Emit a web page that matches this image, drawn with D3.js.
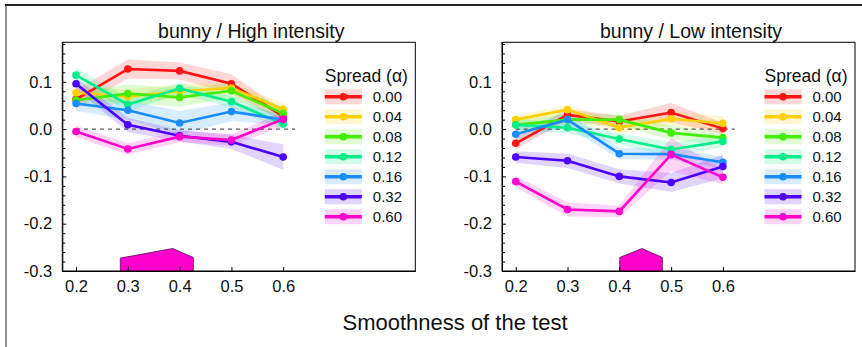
<!DOCTYPE html>
<html>
  <head>
    <meta charset="utf-8">
    <title>bunny</title>
    <script src="https://d3js.org/d3.v7.min.js"></script>
    <style>
    body { margin: 0; background: #fff; }
    text { font-family: "Liberation Sans", Arial, sans-serif; fill: #111; }
    .axis path, .axis line { stroke: #000; }
    </style>
  </head>
  <body>
    <script>
      // ====================================
      // data
      // ====================================
      const smoothness = [0.2, 0.3, 0.4, 0.5, 0.6];
      const spreads = ["0.00", "0.04", "0.08", "0.12", "0.16", "0.32", "0.60"];
      const colors = ["#ff1414", "#ffd000", "#44ee00", "#00ee88", "#1a8cff", "#4b00ff", "#ff00cc"];
      const xTicks = [0.2, 0.3, 0.4, 0.5, 0.6];
      const yTicks = [-0.3, -0.2, -0.1, 0.0, 0.1];

      // High intensity, one row per spread
      const highMean = [
        [0.063, 0.127, 0.123, 0.096, 0.027],
        [0.077, 0.069, 0.080, 0.087, 0.042],
        [0.061, 0.075, 0.067, 0.081, 0.033],
        [0.114, 0.052, 0.086, 0.058, 0.011],
        [0.054, 0.040, 0.013, 0.037, 0.020],
        [0.096, 0.009, -0.014, -0.027, -0.059],
        [-0.005, -0.042, -0.016, -0.023, 0.021]
      ];
      const highErr = [
        [0.020, 0.020, 0.018, 0.020, 0.012],
        [0.012, 0.015, 0.015, 0.012, 0.012],
        [0.015, 0.020, 0.020, 0.015, 0.012],
        [0.015, 0.015, 0.012, 0.012, 0.012],
        [0.015, 0.020, 0.025, 0.020, 0.012],
        [0.012, 0.015, 0.012, 0.015, 0.027],
        [0.012, 0.012, 0.012, 0.012, 0.015]
      ];

      // Low intensity
      const lowMean = [
        [-0.030, 0.030, 0.016, 0.035, 0.001],
        [0.020, 0.041, 0.003, 0.022, 0.012],
        [0.009, 0.020, 0.020, -0.008, -0.018],
        [0.009, 0.003, -0.021, -0.043, -0.026],
        [-0.011, 0.020, -0.052, -0.053, -0.070],
        [-0.059, -0.067, -0.100, -0.113, -0.079],
        [-0.111, -0.170, -0.174, -0.054, -0.102]
      ];
      const lowErr = [
        [0.012, 0.012, 0.012, 0.020, 0.012],
        [0.010, 0.010, 0.012, 0.015, 0.015],
        [0.012, 0.012, 0.012, 0.015, 0.012],
        [0.012, 0.012, 0.012, 0.015, 0.012],
        [0.012, 0.015, 0.012, 0.012, 0.012],
        [0.012, 0.015, 0.015, 0.020, 0.025],
        [0.012, 0.015, 0.012, 0.035, 0.015]
      ];

      // training range markers (pentagon outline)
      const highMarkerX = [0.2855, 0.2855, 0.387, 0.4265, 0.4265];
      const highMarkerY = [-0.3, -0.2727, -0.2524, -0.2715, -0.3];
      const lowMarkerX = [0.4008, 0.4008, 0.444, 0.483, 0.483];
      const lowMarkerY = [-0.3, -0.2713, -0.2524, -0.2713, -0.3];

      // ====================================
      // layout
      // ====================================
      const width = 862;
      const height = 347;
      const panelW = 353;
      const panelH = 228.7;
      const panelTop = 42.3;

      const svg = d3.select("body")
        .append("svg")
          .attr("width", width)
          .attr("height", height);

      // outer frame (top + left edge only)
      svg.append("line")
        .attr("x1", 5).attr("y1", 5).attr("x2", width).attr("y2", 5)
        .attr("stroke", "#222").attr("stroke-width", 2);
      svg.append("line")
        .attr("x1", 6).attr("y1", 5).attr("x2", 6).attr("y2", height)
        .attr("stroke", "#222").attr("stroke-width", 1);

      const xScale = d3.scaleLinear()
          .domain([0.1735, 0.855])
          .range([0, panelW]);

      const yScale = d3.scaleLinear()
          .domain([-0.3, 0.1835])
          .range([panelH, 0]);

      function drawPanel(left, title, means, errs, markX, markY) {
        const g = svg.append("g")
          .attr("transform", "translate(" + left + "," + panelTop + ")");

        g.append("text")
          .attr("x", 189)
          .attr("y", -4.5)
          .attr("text-anchor", "middle")
          .style("font-size", "19.5px")
          .text(title);

        // bands
        const area = d3.area()
          .x((d, i) => xScale(smoothness[i]))
          .y0(d => yScale(d[0] - d[1]))
          .y1(d => yScale(d[0] + d[1]));

        means.forEach(function(row, s) {
          g.append("path")
            .datum(row.map((v, i) => [v, errs[s][i]]))
            .attr("d", area)
            .attr("fill", colors[s])
            .attr("fill-opacity", 0.17);
        });

        // zero line
        g.append("line")
          .attr("x1", xScale(0.2)).attr("x2", xScale(0.623))
          .attr("y1", yScale(0)).attr("y2", yScale(0))
          .attr("stroke", "#333")
          .attr("stroke-dasharray", "4,4");

        // lines + dots
        const line = d3.line()
          .x((d, i) => xScale(smoothness[i]))
          .y(d => yScale(d));

        means.forEach(function(row, s) {
          g.append("path")
            .datum(row)
            .attr("d", line)
            .attr("fill", "none")
            .attr("stroke", colors[s])
            .attr("stroke-width", 2.6);
          g.selectAll(null)
            .data(row)
            .enter().append("circle")
              .attr("cx", (d, i) => xScale(smoothness[i]))
              .attr("cy", d => yScale(d))
              .attr("r", 3.8)
              .attr("fill", colors[s]);
        });

        // training range marker
        g.append("path")
          .datum(markX.map((x, i) => [x, markY[i]]))
          .attr("d", d3.line().x(d => xScale(d[0])).y(d => yScale(d[1])))
          .attr("fill", "#ff00cc")
          .attr("stroke", "#5a0a5a")
          .attr("stroke-width", 0.8);

        // axes with inward ticks
        const xAxis = d3.axisBottom(xScale)
          .tickValues(xTicks)
          .tickSizeInner(-4)
          .tickSizeOuter(0)
          .tickPadding(9)
          .tickFormat(d => d.toFixed(1));

        g.append("g")
          .classed("axis", true)
          .attr("transform", "translate(0," + panelH + ")")
          .call(xAxis)
          .selectAll("text").style("font-size", "16.5px");

        const yMinor = d3.range(-0.28, 0.181, 0.02)
          .filter(v => Math.abs(Math.round(v * 10) - v * 10) > 0.01);

        g.append("g")
          .classed("axis", true)
          .call(d3.axisLeft(yScale).tickValues(yMinor).tickSizeInner(-3).tickSizeOuter(0).tickFormat(""))
          .select(".domain").remove();

        g.append("g")
          .classed("axis", true)
          .call(d3.axisLeft(yScale)
            .tickValues(yTicks)
            .tickSizeInner(-4)
            .tickSizeOuter(0)
            .tickPadding(10)
            .tickFormat(d => d.toFixed(1)))
          .selectAll("text").style("font-size", "16.5px");

        // box
        g.append("rect")
          .attr("width", panelW)
          .attr("height", panelH)
          .attr("fill", "none")
          .attr("stroke", "#000");

        // legend
        const lg = g.append("g").attr("transform", "translate(262.5,0)");
        lg.append("text")
          .attr("x", 0)
          .attr("y", 39.5)
          .style("font-size", "17.5px")
          .text("Spread (\u03b1)");

        spreads.forEach(function(label, s) {
          const cy = 54.4 + s * 20;
          lg.append("rect")
            .attr("x", 0).attr("y", cy - 7.5)
            .attr("width", 37).attr("height", 15)
            .attr("fill", colors[s]).attr("fill-opacity", 0.17);
          lg.append("line")
            .attr("x1", 0).attr("x2", 37)
            .attr("y1", cy).attr("y2", cy)
            .attr("stroke", colors[s]).attr("stroke-width", 3.5);
          lg.append("circle")
            .attr("cx", 18.5).attr("cy", cy).attr("r", 3.8)
            .attr("fill", colors[s]);
          lg.append("text")
            .attr("x", 48)
            .attr("y", cy + 5)
            .style("font-size", "15px")
            .text(label);
        });
      }

      drawPanel(62.3, "bunny / High intensity", highMean, highErr, highMarkerX, highMarkerY);
      drawPanel(502, "bunny / Low intensity", lowMean, lowErr, lowMarkerX, lowMarkerY);

      svg.append("text")
        .attr("x", 455)
        .attr("y", 330)
        .attr("text-anchor", "middle")
        .style("font-size", "22px")
        .text("Smoothness of the test");
    </script>
  </body>
</html>
